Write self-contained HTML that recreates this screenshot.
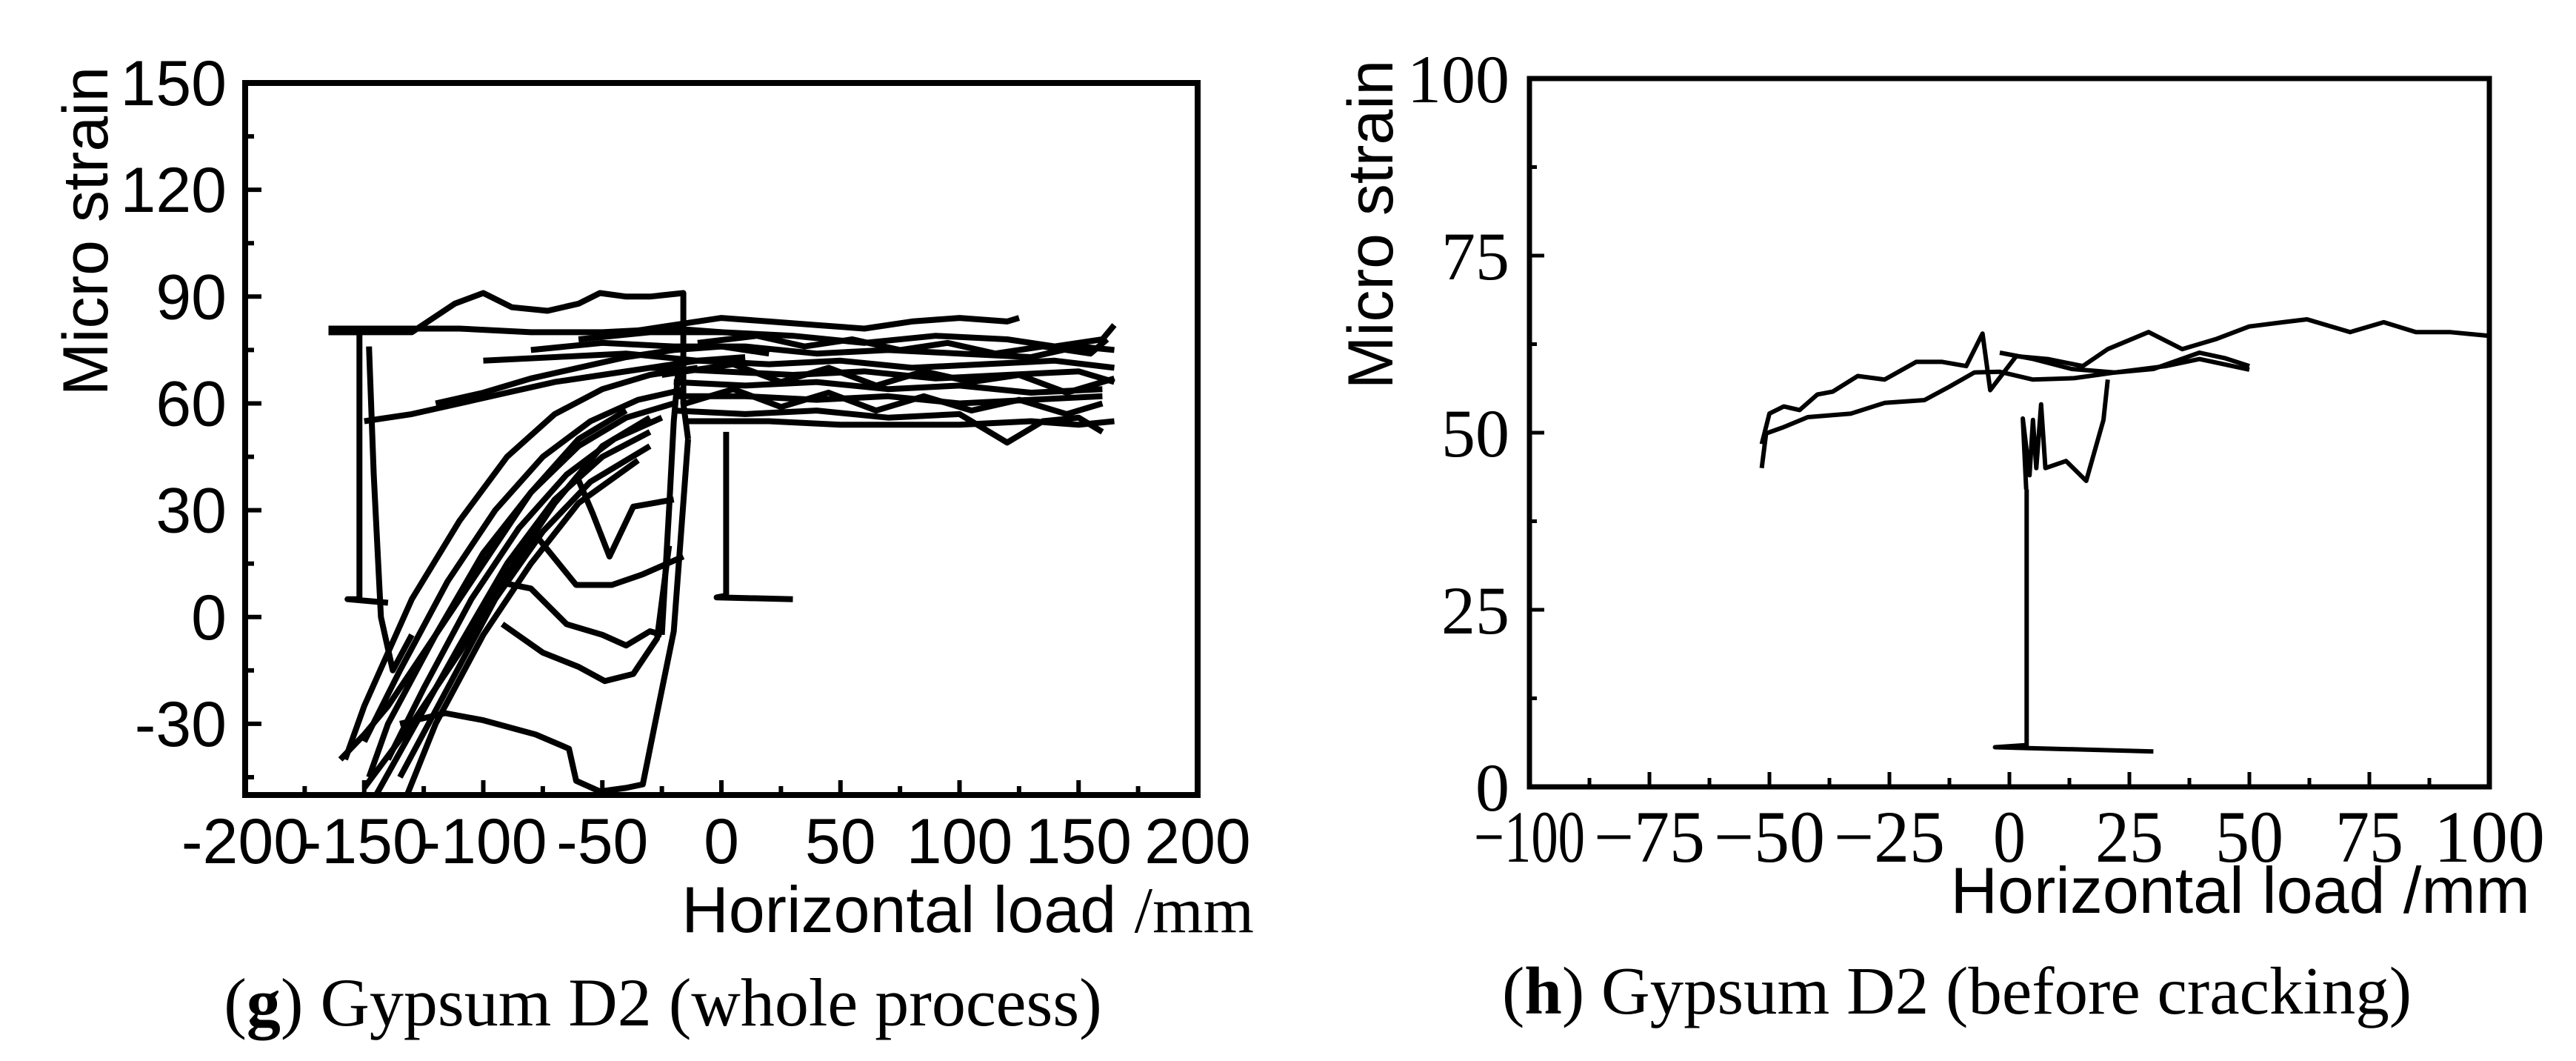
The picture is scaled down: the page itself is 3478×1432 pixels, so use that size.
<!DOCTYPE html>
<html><head><meta charset="utf-8"><style>
html,body{margin:0;padding:0;background:#fff;}
svg{display:block;}
.sans{font-family:"Liberation Sans",Arial,sans-serif;}
.serif{font-family:"Liberation Serif","Times New Roman",serif;}
</style></head><body>
<svg id="fig" width="3478" height="1432" viewBox="0 0 3478 1432" xmlns="http://www.w3.org/2000/svg">
<rect x="0" y="0" width="3478" height="1432" fill="#fff"/>
<g id="chartG"></g>
<g id="chartH"></g>
<text x="895" y="1384" text-anchor="middle" class="serif" font-size="92">(<tspan font-weight="bold">g</tspan>) Gypsum D2 (whole process)</text>
<text x="2642" y="1368" text-anchor="middle" class="serif" font-size="91">(<tspan font-weight="bold">h</tspan>) Gypsum D2 (before cracking)</text>
</svg>
<script>
// ---------- Chart G data ----------
const gXTicks = [-200,-150,-100,-50,0,50,100,150,200];
const gYTicks = [150,120,90,60,30,0,-30];
const gTopX = [-165,-130,-112,-100,-88,-73,-60,-51,-40,-30,-16,-16,-14];
const gTopY = [80,80,88,91,87,86,88,91,90,90,91,60,50];
const gL80X = [-165,-140,-110,-80,-50,-20,0];
const gL80Y = [81,81,81,80,80,81,80];
const gB1X = [-40,-20,0,20,40,60,80,100,120,125];
const gB1Y = [80,82,84,83,82,81,83,84,83,84];
const gB2X = [-60,-30,0,30,60,90,120,140,160,165];
const gB2Y = [78,80,80,79,77,79,78,76,78,82];
const gB3X = [-80,-50,-20,10,40,70,100,130,150,165];
const gB3Y = [75,77,76,76,74,75,74,73,76,75];
const gB4X = [-100,-70,-40,-10,20,50,80,110,140,165];
const gB4Y = [72,73,74,72,71,72,70,71,72,70];
const gB5X = [-30,0,30,60,90,120,150,165];
const gB5Y = [70,69,68,69,67,68,69,66];
const gB6X = [-20,10,40,70,100,130,160];
const gB6Y = [66,65,66,64,65,63,64];
const gB7X = [-20,10,40,70,100,130,160];
const gB7Y = [62,62,61,62,60,61,62];
const gB8X = [-20,10,40,70,100,110,120,135,150,160];
const gB8Y = [58,57,58,56,57,53,49,55,56,52];
const gB9X = [-15,20,50,80,100,130,150,165];
const gB9Y = [55,55,54,54,54,55,54,55];
const gB10X = [-150,-130,-110,-90,-70,-50,-30,-10,10];
const gB10Y = [55,57,60,63,66,68,70,72,73];
const gB11X = [-10,15,35,55,75,95,115,135,155,162];
const gB11Y = [77,79,76,78,75,77,74,76,74,78];
const gB12X = [-25,5,25,45,65,85,105,125,145,165];
const gB12Y = [68,71,66,70,65,69,66,68,63,67];
const gB13X = [-15,5,25,45,65,85,105,125,145,160];
const gB13Y = [60,64,59,63,58,62,58,61,57,60];
const gB14X = [-120,-100,-80,-60,-40,-20,0,20];
const gB14Y = [60,63,67,70,73,75,76,74];
const gC1X = [-10,-30,-50,-70,-90,-110,-130,-150,-158];
const gC1Y = [70,68,64,57,45,27,5,-25,-40];
const gC2X = [-15,-35,-55,-75,-95,-115,-135,-150];
const gC2Y = [64,61,55,45,30,10,-15,-35];
const gC3X = [-20,-40,-60,-80,-100,-120,-140,-148];
const gC3Y = [60,56,48,35,18,-5,-30,-45];
const gC4X = [-25,-45,-65,-85,-105,-125,-140];
const gC4Y = [56,50,40,25,5,-20,-40];
const gC5X = [-30,-50,-70,-90,-110,-130,-145];
const gC5Y = [52,45,33,15,-8,-32,-50];
const gC6X = [-30,-55,-75,-95,-115,-135];
const gC6Y = [48,38,24,5,-20,-45];
const gC7X = [-35,-60,-80,-100,-120,-132];
const gC7Y = [44,32,15,-5,-30,-50];
const gC8X = [-160,-150,-140,-120,-100,-80,-60,-40];
const gC8Y = [-40,-33,-25,-5,15,35,50,58];
const gC9X = [-150,-130,-110,-90,-70,-50,-30];
const gC9Y = [-48,-30,-10,12,32,48,56];
const gV1X = [-165,-152,-152,-157,-140];
const gV1Y = [80,80,5,5,4];
const gV2X = [-148,-146,-143,-138,-130];
const gV2Y = [76,40,0,-15,-5];
const gL0X = [-135,-116,-100,-78,-64,-61,-51,-40,-33,-27,-20,-14];
const gL0Y = [-30,-27,-29,-33,-37,-46,-49,-48,-47,-27,-4,50];
const gL1X = [-95,-80,-65,-50,-40,-30,-25];
const gL1Y = [10,8,-2,-5,-8,-4,-5];
const gL2X = [-92,-75,-60,-49,-37,-27,-22];
const gL2Y = [-2,-10,-14,-18,-16,-6,20];
const gL3X = [-78,-61,-46,-33,-16];
const gL3Y = [23,9,9,12,17];
const gL4X = [-61,-54,-47,-37,-20];
const gL4Y = [40,29,17,31,33];
const gR1X = [-25,-22,-20,-18];
const gR1Y = [-5,30,55,70];
const gStartX = [2,2,-2,30];
const gStartY = [52,6,5.5,5];
const gSeries = [[gTopX,gTopY],[gL80X,gL80Y],[gB1X,gB1Y],[gB2X,gB2Y],[gB3X,gB3Y],[gB4X,gB4Y],[gB5X,gB5Y],[gB6X,gB6Y],[gB7X,gB7Y],[gB8X,gB8Y],[gB9X,gB9Y],[gB10X,gB10Y],[gB11X,gB11Y],[gB12X,gB12Y],[gB13X,gB13Y],[gB14X,gB14Y],[gC1X,gC1Y],[gC2X,gC2Y],[gC3X,gC3Y],[gC4X,gC4Y],[gC5X,gC5Y],[gC6X,gC6Y],[gC7X,gC7Y],[gC8X,gC8Y],[gC9X,gC9Y],[gV1X,gV1Y],[gV2X,gV2Y],[gL0X,gL0Y],[gL1X,gL1Y],[gL2X,gL2Y],[gL3X,gL3Y],[gL4X,gL4Y],[gR1X,gR1Y],[gStartX,gStartY]];

// ---------- Chart H data ----------
const hXTicks = [-100,-75,-50,-25,0,25,50,75,100];
const hXTickLabels = ["\u2212100","\u221275","\u221250","\u221225","0","25","50","75","100"];
const hYTicks = [0,25,50,75,100];
const hUpX = [-51.6,-50,-47,-43.7,-40,-36.8,-31.6,-26,-19.4,-14,-9,-5.6,-4,1.4,8,15.3,20.5,29,36,43,50,57,62,71,78,84.7,91.7,99.5];
const hUpY = [48.4,52.7,53.7,53.2,55.4,55.8,58,57.5,60,60,59.4,64,56,60.8,60.4,59.4,61.8,64.2,61.8,63.2,65,65.6,66,64.2,65.6,64.2,64.2,63.7];
const hLowX = [-51.6,-50.7,-47,-42,-33,-26,-17.7,-12.5,-7.3,-2,4.9,13.5,22,32.6,39.6,50];
const hLowY = [45,49.9,50.8,52.2,52.7,54.2,54.6,56.5,58.5,58.6,57.5,57.7,58.5,59.4,60.4,58.9];
const hRetX = [50,45,39.6,30,22,13,5,-2];
const hRetY = [59.4,60.5,61.3,59,58.5,59,60.4,61.3];
const hSpikeX = [3.5,2.8,4.2,4.9,5.6,6.6,7.5,11.8,16,19.6,20.5];
const hSpikeY = [42,52,44,51.8,45,54,45,46,43.2,51.8,57.5];
const hDropX = [3.6,3.6,-3,30];
const hDropY = [42,5.9,5.6,5.0];

const NS = "http://www.w3.org/2000/svg";
function mk(parent, tag, attrs){const e=document.createElementNS(NS,tag);for(const k in attrs)e.setAttribute(k,attrs[k]);parent.appendChild(e);return e;}
function scale(d0,d1,r0,r1){return v=>r0+(v-d0)*(r1-r0)/(d1-d0);}

// ----- Chart G -----
(function(){
  const g=document.getElementById('chartG');
  const L=331,R=1617,T=112,B=1073;
  const sx=scale(-200,200,L,R), sy=scale(-50,150,B,T);
  const clip=mk(g,'clipPath',{id:'clipG'});
  mk(clip,'rect',{x:L,y:T,width:R-L,height:B-T});
  const lines=mk(g,'g',{'clip-path':'url(#clipG)'});
  
  
  gSeries.forEach((s,i)=>{
    const pts=s[0].map((x,j)=>sx(x).toFixed(1)+','+sy(s[1][j]).toFixed(1)).join(' ');
    const p=mk(lines,'polyline',{points:pts,fill:'none',stroke:'#000','stroke-width':8,'stroke-linejoin':'round'});
    
    
  });
  const frame=mk(g,'rect',{x:L,y:T,width:R-L,height:B-T,fill:'none',stroke:'#000','stroke-width':8});
  
  
  gXTicks.forEach(v=>{
    const x=sx(v);
    mk(g,'line',{x1:x,y1:B,x2:x,y2:B-20,stroke:'#000','stroke-width':6});
    const t=mk(g,'text',{x:x,y:1165,'text-anchor':'middle','font-size':86,class:'sans'});
    t.textContent=String(v);
    
    
  });
  gXTicks.slice(0,-1).forEach(v=>{const x=sx(v+25);mk(g,'line',{x1:x,y1:B,x2:x,y2:B-12,stroke:'#000','stroke-width':6});});
  gYTicks.forEach(v=>{
    const y=sy(v);
    mk(g,'line',{x1:L,y1:y,x2:L+22,y2:y,stroke:'#000','stroke-width':6});
    mk(g,'line',{x1:L,y1:y+15*4.805,x2:L+12,y2:y+15*4.805,stroke:'#000','stroke-width':6});
    const t=mk(g,'text',{x:306,y:y+30,'text-anchor':'end','font-size':86,class:'sans'});
    t.textContent=String(v);
    
    
  });
  const yt=mk(g,'text',{x:145,y:312,'text-anchor':'middle','font-size':86,class:'sans',transform:'rotate(-90 145 312)'});
  yt.textContent='Micro strain';
  
  
  const xt=mk(g,'text',{x:1693,y:1258,'text-anchor':'end','font-size':88,class:'sans'});
  xt.innerHTML='Horizontal load <tspan font-family="Liberation Serif, serif">/mm</tspan>';
  
  
})();

// ----- Chart H -----
(function(){
  const g=document.getElementById('chartH');
  const L=2065,R=3361,T=106,B=1062;
  const sx=scale(-100,100,L,R), sy=scale(0,100,B,T);
  const lines=mk(g,'g',{});
  
  
  [[hUpX,hUpY,'upper'],[hLowX,hLowY,'lower'],[hRetX,hRetY,'return'],[hSpikeX,hSpikeY,'spike'],[hDropX,hDropY,'drop']].forEach(s=>{
    const pts=s[0].map((x,j)=>sx(x).toFixed(1)+','+sy(s[1][j]).toFixed(1)).join(' ');
    const p=mk(lines,'polyline',{points:pts,fill:'none',stroke:'#000','stroke-width':6,'stroke-linejoin':'round'});
    
    
  });
  const frame=mk(g,'rect',{x:L,y:T,width:R-L,height:B-T,fill:'none',stroke:'#000','stroke-width':7});
  
  
  hXTicks.forEach((v,i)=>{
    const x=sx(v);
    mk(g,'line',{x1:x,y1:B,x2:x,y2:B-20,stroke:'#000','stroke-width':5});
    if(i<hXTicks.length-1){const xm=sx(v+12.5);mk(g,'line',{x1:xm,y1:B,x2:xm,y2:B-12,stroke:'#000','stroke-width':5});}
    const t=mk(g,'text',{x:x,y:1163,'text-anchor':'middle','font-size':100,class:'serif',textLength:(hXTickLabels[i].length>2?150:(hXTickLabels[i].length>1?92:44)),lengthAdjust:'spacingAndGlyphs'});
    t.textContent=hXTickLabels[i];
    
    
  });
  hYTicks.forEach((v,i)=>{
    const y=sy(v);
    mk(g,'line',{x1:L,y1:y,x2:L+20,y2:y,stroke:'#000','stroke-width':5});
    if(i<hYTicks.length-1){const ym=sy(v+12.5);mk(g,'line',{x1:L,y1:ym,x2:L+10,y2:ym,stroke:'#000','stroke-width':5});}
    const t=mk(g,'text',{x:2038,y:y+32,'text-anchor':'end','font-size':92,class:'serif'});
    t.textContent=String(v);
    
    
  });
  const yt=mk(g,'text',{x:1880,y:303,'text-anchor':'middle','font-size':86,class:'sans',transform:'rotate(-90 1880 303)'});
  yt.textContent='Micro strain';
  
  
  const xt=mk(g,'text',{x:3416,y:1232,'text-anchor':'end','font-size':88,class:'sans'});
  xt.textContent='Horizontal load /mm';
  
  
})();
</script>
</body></html>
